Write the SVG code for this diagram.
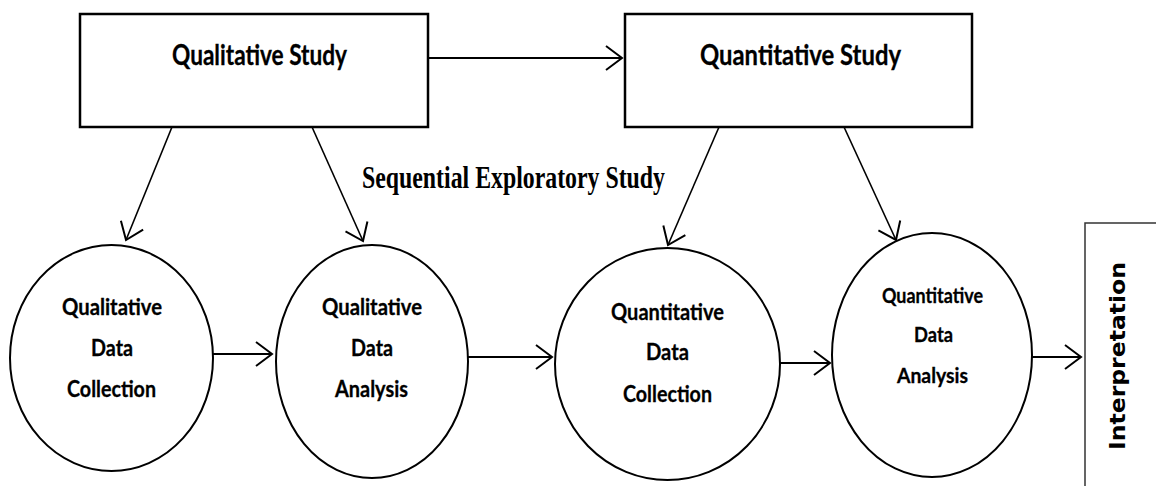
<svg xmlns="http://www.w3.org/2000/svg" width="1156" height="486" viewBox="0 0 1156 486">
<style>
.box{fill:#fff;stroke:#000;stroke-width:2.5}
.ell{fill:#fff;stroke:#000;stroke-width:2}
.t{font-family:Lato,"Liberation Sans",sans-serif;font-weight:bold;fill:#000;stroke:#000;stroke-width:0.3}
.c{stroke:#000;stroke-width:2;fill:none;marker-end:url(#ah)}
.d{stroke:#000;stroke-width:1.6;fill:none;marker-end:url(#ah)}
</style>
<defs>
<marker id="ah" viewBox="-20 -16 24 32" refX="0" refY="0" markerWidth="24" markerHeight="32" markerUnits="userSpaceOnUse" orient="auto" overflow="visible">
<path d="M-16,-12 L0,0 L-16,12" fill="none" stroke="#000" stroke-width="2"/>
</marker>
</defs>
<rect width="1156" height="486" fill="#fff"/>

<g id="connectors">
<line class="c" x1="428" y1="58" x2="622" y2="58"/>
<line class="d" x1="172" y1="127" x2="126" y2="240"/>
<line class="d" x1="312" y1="127" x2="363" y2="241"/>
<line class="d" x1="719" y1="127" x2="668" y2="245"/>
<line class="d" x1="844" y1="127" x2="896" y2="240"/>
<line class="c" x1="213" y1="354" x2="272" y2="354"/>
<line class="c" x1="468" y1="357" x2="552" y2="357"/>
<line class="c" x1="780" y1="363" x2="830" y2="363"/>
<line class="c" x1="1032" y1="357" x2="1081" y2="357"/>
</g>

<g id="qualitative-study">
<rect class="box" x="80" y="14" width="348" height="113"/>
<text class="t" x="172" y="65" font-size="29" textLength="175" lengthAdjust="spacingAndGlyphs">Qualitative Study</text>
</g>

<g id="quantitative-study">
<rect class="box" x="625" y="14" width="347" height="113"/>
<text class="t" x="700" y="65" font-size="29" textLength="201" lengthAdjust="spacingAndGlyphs">Quantitative Study</text>
</g>

<g id="label-sequential">
<text x="362" y="188" font-family="'Liberation Serif',serif" font-weight="bold" font-size="32" textLength="303" lengthAdjust="spacingAndGlyphs">Sequential Exploratory Study</text>
</g>

<g id="qual-data-collection">
<ellipse class="ell" cx="111.5" cy="358" rx="101.5" ry="113"/>
<text class="t" font-size="22" x="62" y="315" textLength="100" lengthAdjust="spacingAndGlyphs">Qualitative</text>
<text class="t" font-size="22" x="91" y="356" textLength="42" lengthAdjust="spacingAndGlyphs">Data</text>
<text class="t" font-size="22" x="67" y="397" textLength="89" lengthAdjust="spacingAndGlyphs">Collection</text>
</g>

<g id="qual-data-analysis">
<ellipse class="ell" cx="372" cy="361.5" rx="96" ry="116.5"/>
<text class="t" font-size="22" x="322" y="315" textLength="100" lengthAdjust="spacingAndGlyphs">Qualitative</text>
<text class="t" font-size="22" x="351" y="356" textLength="42" lengthAdjust="spacingAndGlyphs">Data</text>
<text class="t" font-size="22" x="335" y="397" textLength="73" lengthAdjust="spacingAndGlyphs">Analysis</text>
</g>

<g id="quant-data-collection">
<ellipse class="ell" cx="667.5" cy="364" rx="112.5" ry="116"/>
<text class="t" font-size="23" x="611" y="320" textLength="113" lengthAdjust="spacingAndGlyphs">Quantitative</text>
<text class="t" font-size="23" x="646" y="360" textLength="43" lengthAdjust="spacingAndGlyphs">Data</text>
<text class="t" font-size="23" x="623" y="402" textLength="89" lengthAdjust="spacingAndGlyphs">Collection</text>
</g>

<g id="quant-data-analysis">
<ellipse class="ell" cx="932" cy="355" rx="100" ry="122"/>
<text class="t" font-size="20" x="882" y="303" textLength="101" lengthAdjust="spacingAndGlyphs">Quantitative</text>
<text class="t" font-size="20" x="914" y="342" textLength="39" lengthAdjust="spacingAndGlyphs">Data</text>
<text class="t" font-size="20" x="897" y="383" textLength="71" lengthAdjust="spacingAndGlyphs">Analysis</text>
</g>

<g id="interpretation">
<rect x="1085" y="223" width="100" height="300" fill="#fff" stroke="#333" stroke-width="1.5"/>
<text transform="translate(1125,356) rotate(-90)" x="0" y="0" text-anchor="middle" font-family="'DejaVu Sans',sans-serif" font-weight="bold" font-size="21" textLength="188" lengthAdjust="spacingAndGlyphs">Interpretation</text>
</g>
</svg>
